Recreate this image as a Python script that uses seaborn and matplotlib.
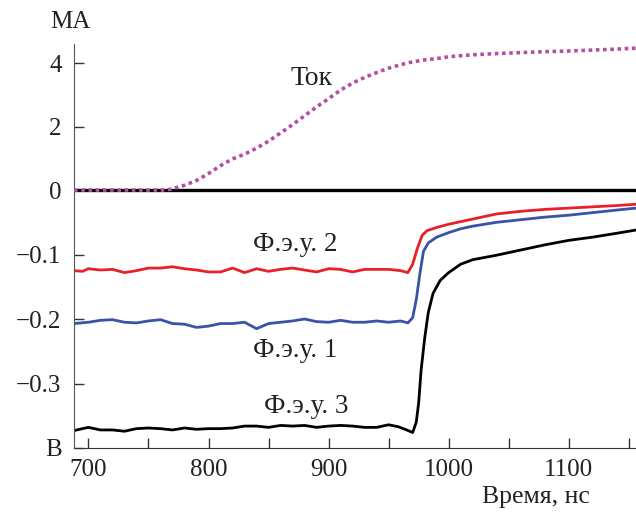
import numpy as np
import matplotlib
matplotlib.use("Agg")
import matplotlib.pyplot as plt
import seaborn as sns

# --- данные (время, нс) ---
t_tok = [688, 700, 720, 740, 760, 765, 770, 780, 790, 800, 810, 820, 830, 840, 850, 860,
         870, 880, 890, 900, 910, 920, 930, 940, 950, 960, 970, 980, 990, 1000,
         1020, 1040, 1060, 1080, 1100, 1120, 1140, 1156]
tok = [0, 0, 0, 0, 0, 0, 0.04, 0.15, 0.3, 0.52, 0.77, 0.98, 1.13, 1.32, 1.54, 1.8,
       2.06, 2.34, 2.62, 2.88, 3.15, 3.37, 3.55, 3.7, 3.84, 3.95, 4.04, 4.1, 4.14, 4.2,
       4.26, 4.3, 4.33, 4.36, 4.38, 4.41, 4.44, 4.47]

t_pmt2 = [688, 695, 700, 710, 720, 730, 740, 750, 760, 770, 780, 790, 800, 810, 820, 830,
          840, 850, 860, 870, 880, 890, 900, 910, 920, 930, 940, 950, 960, 966, 970, 974,
          978, 982, 990, 1000, 1010, 1020, 1040, 1060, 1080, 1100, 1120, 1140, 1156]
pmt2 = [-0.125, -0.126, -0.122, -0.124, -0.123, -0.128, -0.125, -0.121, -0.121, -0.119,
        -0.122, -0.124, -0.127, -0.127, -0.121, -0.128, -0.122, -0.126, -0.123, -0.121,
        -0.124, -0.127, -0.122, -0.123, -0.127, -0.123, -0.123, -0.123, -0.125, -0.128,
        -0.115, -0.09, -0.07, -0.063, -0.058, -0.053, -0.049, -0.045, -0.037, -0.033,
        -0.03, -0.028, -0.026, -0.024, -0.022]

t_pmt1 = [688, 700, 710, 720, 730, 740, 750, 760, 770, 780, 790, 800, 810, 820, 830, 840,
          850, 860, 870, 880, 890, 900, 910, 920, 930, 940, 950, 960, 966, 970, 973, 976,
          979, 983, 990, 1000, 1010, 1020, 1040, 1060, 1080, 1100, 1120, 1140, 1156]
pmt1 = [-0.207, -0.205, -0.202, -0.201, -0.205, -0.206, -0.203, -0.201, -0.207, -0.208,
        -0.213, -0.211, -0.207, -0.207, -0.205, -0.215, -0.207, -0.205, -0.203, -0.200,
        -0.204, -0.205, -0.202, -0.205, -0.205, -0.203, -0.205, -0.203, -0.206, -0.198,
        -0.17, -0.13, -0.095, -0.082, -0.073, -0.066, -0.06, -0.056, -0.05, -0.046,
        -0.042, -0.039, -0.035, -0.031, -0.028]

t_pmt3 = [688, 695, 700, 710, 720, 730, 740, 750, 760, 770, 780, 790, 800, 810, 820, 830,
          840, 850, 860, 870, 880, 890, 900, 910, 920, 930, 940, 950, 958, 965, 970, 973,
          975, 977, 980, 983, 987, 993, 1000, 1010, 1020, 1040, 1060, 1080, 1100, 1120,
          1140, 1156]
pmt3 = [-0.373, -0.370, -0.368, -0.372, -0.372, -0.374, -0.370, -0.369, -0.370, -0.372,
        -0.369, -0.371, -0.370, -0.370, -0.369, -0.366, -0.366, -0.368, -0.365, -0.366,
        -0.365, -0.368, -0.366, -0.365, -0.366, -0.368, -0.368, -0.364, -0.367, -0.372,
        -0.376, -0.36, -0.33, -0.28, -0.23, -0.19, -0.16, -0.14, -0.128, -0.115, -0.108,
        -0.101, -0.093, -0.085, -0.078, -0.073, -0.067, -0.062]

y_ticks = [-0.4, -0.3, -0.2, -0.1, 0, 2, 4]
y_labels = ["В", "\u22120.3", "\u22120.2", "\u22120.1", "0", "2", "4"]

# 1 МА на верхней части = 0.0492 В по высоте
K = 31.75 / 645.0


def fwd(y):
    y = np.asarray(y, dtype=float)
    return np.where(y < 0, y, y * K)


def inv(y):
    y = np.asarray(y, dtype=float)
    return np.where(y < 0, y, y / K)


sns.set_style("ticks")
plt.rcParams["font.family"] = ["Liberation Serif", "DejaVu Serif"]

fig = plt.figure(figsize=(6.36, 5.12), dpi=100)
ax = fig.add_axes([0.1164, 0.125, 0.8836, 0.789])
ax.set_yscale("function", functions=(fwd, inv))

ax.axhline(0, color="black", lw=2.4, zorder=2)
sns.lineplot(x=t_pmt2, y=pmt2, ax=ax, color="#e8202a", lw=2.0, sort=False)
sns.lineplot(x=t_pmt1, y=pmt1, ax=ax, color="#3a52a8", lw=2.0, sort=False)
sns.lineplot(x=t_pmt3, y=pmt3, ax=ax, color="black", lw=2.0, sort=False)
sns.lineplot(x=t_tok, y=tok, ax=ax, color="#b44fa0", lw=2.6, linestyle=(0, (1, 1)),
             sort=False, zorder=5)

ax.set_xlim(688, 1156)
ax.set_ylim(-0.4, 4.6)
ax.set_xticks(np.arange(700, 1151, 50))
ax.set_xticklabels([str(v) if v % 100 == 0 else "" for v in range(700, 1151, 50)])
ax.set_yticks(y_ticks)
ax.set_yticklabels(y_labels)
ax.tick_params(axis="both", direction="in", length=7, width=1, labelsize=18,
               colors="#333333", labelcolor="#222222")
ax.tick_params(axis="x", pad=8)
ax.tick_params(axis="y", pad=9)
sns.despine(ax=ax)
ax.spines["left"].set_color("#555555")
ax.spines["bottom"].set_color("#333333")

ax.text(886, 3.5, "Ток", fontsize=20, ha="center", va="center", color="#222222")
ax.text(872, -0.085, "Ф.э.у. 2", fontsize=19.5, ha="center", va="center", color="#222222")
ax.text(872, -0.249, "Ф.э.у. 1", fontsize=19.5, ha="center", va="center", color="#222222")
ax.text(881, -0.336, "Ф.э.у. 3", fontsize=19.5, ha="center", va="center", color="#222222")

fig.text(70 / 636, 1 - 22 / 512, "МА", fontsize=18, ha="center", va="center", color="#222222")
fig.text(590 / 636, 1 - 497 / 512, "Время, нс", fontsize=18.5, ha="right", va="center",
         color="#222222")

fig.savefig("out.png", dpi=100)
